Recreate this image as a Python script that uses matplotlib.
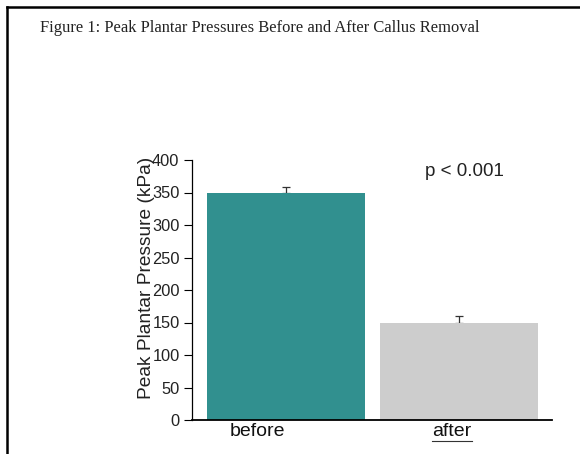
import numpy as np
import matplotlib
matplotlib.use("Agg")
import matplotlib.pyplot as plt
from matplotlib.lines import Line2D

# Data
groups = ["before", "after"]
pressure = [350, 149]
pressure_err = [9, 11]
bar_colors = ["#31908f", "#cdcdcd"]
y_ticks = [0, 50, 100, 150, 200, 250, 300, 350, 400]

fig = plt.figure(figsize=(5.8, 4.54), dpi=100)
plt.rcParams['font.family'] = ['Liberation Sans', 'DejaVu Sans']

# page frame (top and left edge of the scanned page)
fig.add_artist(Line2D([7 / 580, 1], [1 - 6.5 / 454, 1 - 6.5 / 454],
                      color="black", lw=1.8))
fig.add_artist(Line2D([7 / 580, 7 / 580], [0, 1 - 6.5 / 454],
                      color="black", lw=1.8))

fig.text(40 / 580, 1 - 28 / 454,
         "Figure 1: Peak Plantar Pressures Before and After Callus Removal",
         family="Liberation Serif", fontsize=11.9, va="center", ha="left",
         color="#222222")

ax = fig.add_axes([192 / 580, 1 - 420 / 454, 360 / 580, 260 / 454])
x = np.arange(len(groups))
ax.bar(x, pressure, width=0.91, color=bar_colors, zorder=2)
ax.errorbar(x, pressure, yerr=[[0, 0], pressure_err], fmt="none",
            ecolor="#333333", elinewidth=0.9, capsize=3, capthick=0.9,
            zorder=1)

ax.set_xlim(-0.543, 1.538)
ax.set_ylim(0, 400)
ax.set_yticks(y_ticks)
ax.tick_params(axis="y", labelsize=11.8, length=6, width=0.8, pad=3,
               labelcolor="#222222")
ax.set_xticks(x + np.array([-0.165, -0.04]))
ax.set_xticklabels(groups, fontsize=14, color="#111111")
ax.tick_params(axis="x", length=0, pad=2)
ax.set_ylabel("Peak Plantar Pressure (kPa)", fontsize=13.8, color="#222222")
ax.yaxis.set_label_coords(-0.104, 0.545)

for side in ["top", "right"]:
    ax.spines[side].set_visible(False)
ax.spines["left"].set_linewidth(0.9)
ax.spines["bottom"].set_linewidth(1.3)

ax.text(0.756, 0.955, "p < 0.001", transform=ax.transAxes, fontsize=13.5,
        ha="center", va="center", color="#222222")

# underline below the "after" label, as in the original
fig.canvas.draw()
bb = ax.get_xticklabels()[1].get_window_extent()
fb = bb.transformed(fig.transFigure.inverted())
fig.add_artist(Line2D([fb.x0, fb.x1], [fb.y0 - 1 / 454, fb.y0 - 1 / 454],
                      color="#333333", lw=0.8))

fig.savefig("out.png", dpi=100)
